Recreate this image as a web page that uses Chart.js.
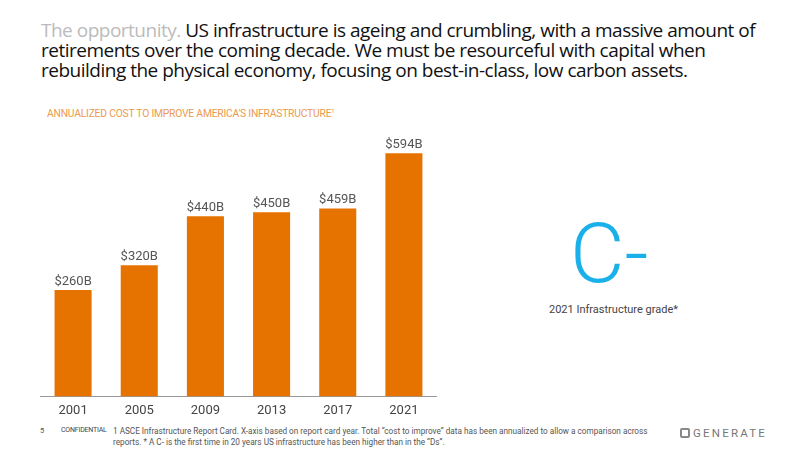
<!DOCTYPE html>
<html>
<head>
<meta charset="utf-8">
<script src="https://cdn.jsdelivr.net/npm/chart.js@4"></script>
<style>
    body { margin: 0; width: 800px; height: 450px; background: #fff; position: relative; overflow: hidden; font-family: Roboto, sans-serif; }
    .title { position: absolute; left: 41px; top: 20px; width: 725px; font-family: "Open Sans", sans-serif; font-size: 19px; line-height: 20px; color: #111; letter-spacing: -0.5px; }
    .title .lead { color: #bbb; }
    .subtitle { position: absolute; left: 47px; top: 107px; font-size: 10.3px; color: #ec9a4e; letter-spacing: -0.2px; }
    .subtitle sup { font-size: 6px; }
    #chart-wrap { position: absolute; left: 40px; top: 120px; width: 397px; height: 306px; }
    .grade { position: absolute; left: 570px; top: 204px; font-size: 84px; font-weight: 300; color: #1ab0ea; line-height: 100px; }
    .grade-label { position: absolute; left: 549px; top: 303px; font-size: 11px; color: #444; }
    .page-no { position: absolute; left: 40px; top: 426px; font-size: 7.5px; color: #555; }
    .conf { position: absolute; left: 61px; top: 426px; font-size: 7px; color: #444; letter-spacing: -0.2px; }
    .footnote { position: absolute; left: 113px; top: 426px; width: 545px; font-size: 8.2px; line-height: 10.5px; color: #555; }
    .logo { position: absolute; left: 680px; top: 426px; font-size: 11.5px; letter-spacing: 2.2px; color: #777; }
    .logo .icon { display: inline-block; box-sizing: border-box; width: 10px; height: 10px; border: 2px solid #888; border-radius: 2px; margin-right: 3px; vertical-align: -1px; }
</style>
</head>
<body>
<div class="title"><span class="lead">The opportunity.</span> US infrastructure is ageing and crumbling, with a massive amount of retirements over the coming decade. We must be resourceful with capital when rebuilding the physical economy, focusing on best-in-class, low carbon assets.</div>
<div class="subtitle">ANNUALIZED COST TO IMPROVE AMERICA'S INFRASTRUCTURE<sup>1</sup></div>
<div id="chart-wrap"><canvas id="cost-chart"></canvas></div>
<div class="grade">C-</div>
<div class="grade-label">2021 Infrastructure grade*</div>
<div class="page-no">5</div>
<div class="conf">CONFIDENTIAL</div>
<div class="footnote">1 ASCE Infrastructure Report Card. X-axis based on report card year. Total “cost to improve” data has been annualized to allow a comparison across reports. * A C- is the first time in 20 years US infrastructure has been higher than in the “Ds”.</div>
<div class="logo"><span class="icon"></span>GENERATE</div>

<script>
const years = ['2001', '2005', '2009', '2013', '2017', '2021'];
const costBillions = [260, 320, 440, 450, 459, 594];
const costLabels = ['$260B', '$320B', '$440B', '$450B', '$459B', '$594B'];

// draws the value text above each bar
const barLabels = {
    id: 'barLabels',
    afterDatasetsDraw(chart) {
        const ctx = chart.ctx;
        const meta = chart.getDatasetMeta(0);
        ctx.save();
        ctx.font = '13px Roboto';
        ctx.fillStyle = '#555';
        ctx.textAlign = 'center';
        ctx.textBaseline = 'bottom';
        meta.data.forEach((bar, i) => {
            ctx.fillText(costLabels[i], bar.x, bar.y - 2);
        });
        ctx.restore();
    }
};

new Chart(document.getElementById('cost-chart'), {
    type: 'bar',
    data: {
        labels: years,
        datasets: [{
            data: costBillions,
            backgroundColor: '#e67300',
            barPercentage: 0.56,
            categoryPercentage: 1
        }]
    },
    options: {
        responsive: true,
        maintainAspectRatio: false,
        animation: false,
        layout: { padding: 0 },
        plugins: { legend: { display: false }, tooltip: { enabled: false } },
        scales: {
            x: {
                grid: { display: false, drawTicks: false },
                border: { color: '#999', width: 1 },
                ticks: { color: '#444', font: { family: 'Roboto', size: 13 }, padding: 7 }
            },
            y: {
                display: false,
                min: 0,
                max: 675
            }
        }
    },
    plugins: [barLabels]
});
</script>
</body>
</html>
